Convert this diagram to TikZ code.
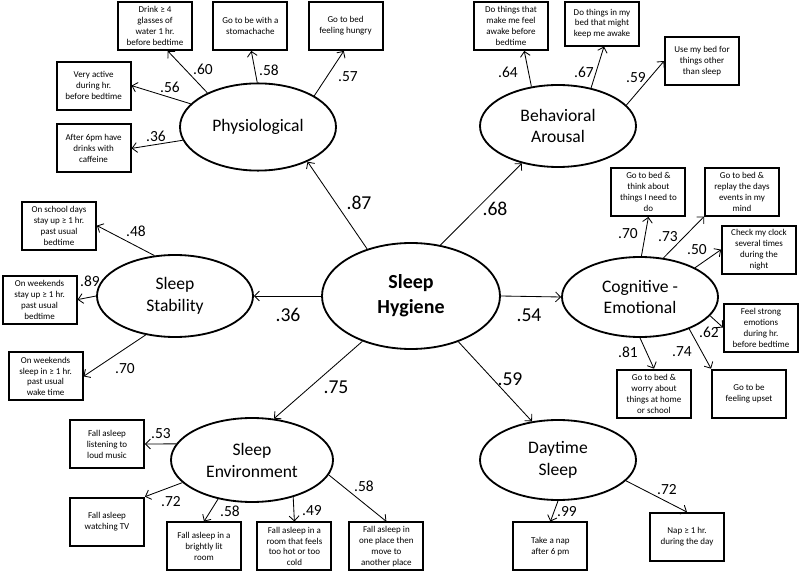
\documentclass[tikz,border=0pt]{standalone}
\usepackage{fontspec}
\setmainfont{Carlito}
\usetikzlibrary{arrows.meta, shapes.geometric}

\begin{document}
\begin{tikzpicture}[
        factor/.style={
            ellipse,
            draw=black,
            fill=white,
            line width=1.3pt,
            inner sep=0pt,
            minimum width=3.90cm,
            minimum height=2.05cm,
            font=\fontsize{12.5}{15.6}\selectfont,
            align=center
          },
        item/.style={
            draw=black,
            fill=white,
            line width=1.3pt,
            inner sep=1pt,
            minimum width=1.85cm,
            minimum height=1.20cm,
            font=\fontsize{6.4}{7.8}\selectfont,
            align=center
          },
        load/.style={font=\fontsize{11}{13}\selectfont, inner sep=0pt},
        bigload/.style={font=\fontsize{14}{16}\selectfont, inner sep=0pt},
        arr/.style={-{Straight Barb[length=3.5pt,width=7pt]}, black, line width=0.6pt}
      ]
      \useasboundingbox (0,0) rectangle (20,-14.325);

      % latent factors
      \node[factor, minimum width=4.45cm, minimum height=2.65cm, font=\fontsize{14.2}{17.8}\selectfont\bfseries] (hyg) at (10.275,-7.40) {Sleep\\Hygiene};
      \node[factor, minimum height=2.18cm] (phys) at (6.45,-3.175) {Physiological};
      \node[factor] (beh) at (13.95,-3.15) {Behavioral\\Arousal};
      \node[factor] (stab) at (4.375,-7.40) {Sleep\\Stability};
      \node[factor, minimum height=2.00cm] (cog) at (16.00,-7.425) {Cognitive -\\Emotional};
      \node[factor, minimum width=4.05cm, minimum height=2.10cm] (env) at (6.30,-11.50) {Sleep\\Environment};
      \node[factor, minimum height=2.00cm] (day) at (13.95,-11.50) {Daytime\\Sleep};

      % physiological items
      \node[item] (water) at (3.875,-0.65) {Drink ≥ 4\\glasses of\\water 1 hr.\\before bedtime};
      \node[item] (stomach) at (6.26,-0.65) {Go to be with a\\stomachache};
      \node[item] (hungry) at (8.64,-0.65) {Go to bed\\feeling hungry};
      \node[item] (active) at (2.34,-2.14) {Very active\\during hr.\\before bedtime};
      \node[item] (caffeine) at (2.34,-3.71) {After 6pm have\\drinks with\\caffeine};

      % behavioral items
      \node[item] (awake) at (12.775,-0.65) {Do things that\\make me feel\\awake before\\bedtime};
      \node[item, minimum height=1.10cm] (bedawake) at (15.05,-0.59) {Do things in my\\bed that might\\keep me awake};
      \node[item] (usebed) at (17.55,-1.525) {Use my bed for\\things other\\than sleep};

      % stability items
      \node[item] (school) at (1.475,-5.64) {On school days\\stay up ≥ 1 hr.\\past usual\\bedtime};
      \node[item] (wkup) at (0.99,-7.49) {On weekends\\stay up ≥ 1 hr.\\past usual\\bedtime};
      \node[item] (wkin) at (1.14,-9.41) {On weekends\\sleep in ≥ 1 hr.\\past usual\\wake time};

      % cognitive items
      \node[item] (think) at (16.21,-4.80) {Go to bed \&\\think about\\things I need to\\do};
      \node[item] (replay) at (18.55,-4.79) {Go to bed \&\\replay the days\\events in my\\mind};
      \node[item] (clock) at (18.975,-6.24) {Check my clock\\several times\\during the\\night};
      \node[item] (strong) at (19.025,-8.19) {Feel strong\\emotions\\during hr.\\before bedtime};
      \node[item] (worry) at (16.35,-9.84) {Go to bed \&\\worry about\\things at home\\or school};
      \node[item] (upset) at (18.725,-9.84) {Go to be\\feeling upset};

      % environment items
      \node[item] (music) at (2.675,-11.10) {Fall asleep\\listening to\\loud music};
      \node[item] (tv) at (2.675,-13.04) {Fall asleep\\watching TV};
      \node[item] (bright) at (5.10,-13.66) {Fall asleep in a\\brightly lit\\room};
      \node[item] (hot) at (7.36,-13.66) {Fall asleep in a\\room that feels\\too hot or too\\cold};
      \node[item] (move) at (9.66,-13.66) {Fall asleep in\\one place then\\move to\\another place};

      % daytime items
      \node[item] (latenap) at (13.76,-13.66) {Take a nap\\after 6 pm};
      \node[item] (longnap) at (17.175,-13.425) {Nap ≥  1 hr.\\during the day};

      % second order paths
      \draw[arr] (hyg.133) -- (phys.-35);
      \draw[arr] (hyg.60) -- (beh.-134);
      \draw[arr] (hyg.west) -- (stab.east);
      \draw[arr] (hyg.east) -- (cog.west);
      \draw[arr] (hyg.-137) -- (env.62);
      \draw[arr] (hyg.-44) -- (day.124);

      \node[bigload] (l_phys) at (8.975,-5.075) {.87};
      \node[bigload] (l_beh) at (12.375,-5.225) {.68};
      \node[bigload] (l_stab) at (7.20,-7.875) {.36};
      \node[bigload] (l_cog) at (13.225,-7.875) {.54};
      \node[bigload] (l_env) at (8.40,-9.675) {.75};
      \node[bigload] (l_day) at (12.75,-9.475) {.59};

      % loadings
      \draw[arr] (phys.146) -- (water.-63);
      \draw[arr] (phys.91) -- (stomach.-88);
      \draw[arr] (phys.29) -- (hungry.-94);
      \draw[arr] (phys.161) -- (active.east);
      \draw[arr] (phys.190) -- (caffeine.east);
      \node[load] (l_water) at (5.075,-1.725) {.60};
      \node[load] (l_stomach) at (6.725,-1.75) {.58};
      \node[load] (l_hungry) at (8.70,-1.925) {.57};
      \node[load] (l_active) at (4.25,-2.175) {.56};
      \node[load] (l_caffeine) at (3.90,-3.40) {.36};

      \draw[arr] (beh.124) -- (awake.-62);
      \draw[arr] (beh.49) -- (bedawake.-85);
      \draw[arr] (beh.17) -- (usebed.west);
      \node[load] (l_awake) at (12.70,-1.80) {.64};
      \node[load] (l_bedawake) at (14.60,-1.80) {.67};
      \node[load] (l_usebed) at (15.90,-1.95) {.59};

      \draw[arr] (stab.117) -- (school.east);
      \draw[arr] (stab.west) -- (wkup.east);
      \draw[arr] (stab.233) -- (wkin.east);
      \node[load] (l_school) at (3.40,-5.775) {.48};
      \node[load] (l_wkup) at (2.25,-7.025) {.89};
      \node[load] (l_wkin) at (3.125,-9.225) {.70};

      \draw[arr] (cog.88) -- (think.south);
      \draw[arr] (cog.59) -- (replay.south west);
      \draw[arr] (cog.28) -- (clock.west);
      \draw[arr] (cog.-15) -- (strong.west);
      \draw[arr] (cog.-90) -- (worry.north);
      \draw[arr] (cog.-33) -- (upset.north west);
      \node[load] (l_think) at (15.70,-5.85) {.70};
      \node[load] (l_replay) at (16.70,-5.925) {.73};
      \node[load] (l_clock) at (17.425,-6.25) {.50};
      \node[load] (l_strong) at (17.725,-8.30) {.62};
      \node[load] (l_worry) at (15.70,-8.80) {.81};
      \node[load] (l_upset) at (17.05,-8.80) {.74};

      \draw[arr] (env.168) -- (music.east);
      \draw[arr] (env.198) -- (tv.north east);
      \draw[arr] (env.229) -- (bright.north);
      \draw[arr] (env.-42) -- (hot.north);
      \draw[arr] (env.-11) -- (move.north);
      \node[load] (l_music) at (4.025,-10.85) {.53};
      \node[load] (l_tv) at (4.275,-12.55) {.72};
      \node[load] (l_bright) at (5.75,-12.775) {.58};
      \node[load] (l_hot) at (7.80,-12.775) {.49};
      \node[load] (l_move) at (9.10,-12.15) {.58};

      \draw[arr] (day.south) -- (latenap.north);
      \draw[arr] (day.-17) -- (longnap.north);
      \node[load] (l_latenap) at (14.175,-12.80) {.99};
      \node[load] (l_longnap) at (16.675,-12.25) {.72};
    \end{tikzpicture}
\end{document}
